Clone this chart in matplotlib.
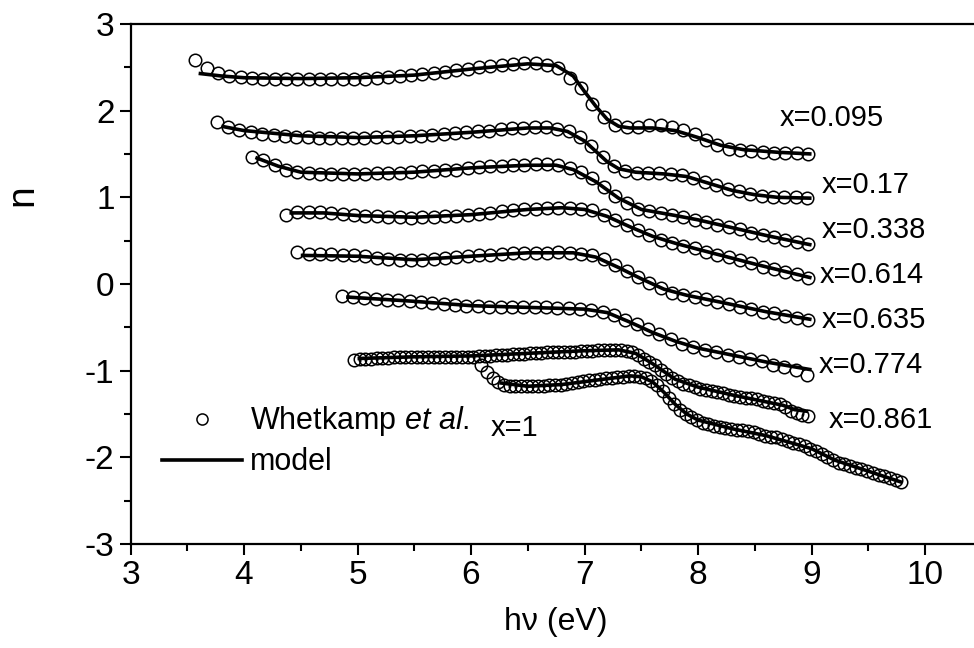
import numpy as np
import matplotlib
matplotlib.use('Agg')
import matplotlib.pyplot as plt
from matplotlib.lines import Line2D

plt.rcParams['font.family'] = ['Liberation Sans', 'DejaVu Sans']
plt.rcParams['mathtext.fontset'] = 'custom'
plt.rcParams['mathtext.rm'] = 'Liberation Sans'
plt.rcParams['mathtext.it'] = 'Liberation Sans:italic'
plt.rcParams['axes.unicode_minus'] = False

# datos medidos (circulos) y modelo (linea) para cada composicion x
e_0095 = [3.57, 3.67, 3.77, 3.87, 3.97, 4.07, 4.17, 4.27, 4.37, 4.47, 4.57, 4.67, 4.77, 4.87,
          4.97, 5.07, 5.17, 5.27, 5.37, 5.47, 5.57, 5.67, 5.77, 5.87, 5.97, 6.07, 6.17, 6.27,
          6.37, 6.47, 6.57, 6.67, 6.77, 6.87, 6.97, 7.07, 7.17, 7.27, 7.37, 7.47, 7.57, 7.67,
          7.77, 7.87, 7.97, 8.07, 8.17, 8.27, 8.37, 8.47, 8.57, 8.67, 8.77, 8.87, 8.97]
n_0095 = [2.58, 2.49, 2.43, 2.40, 2.39, 2.38, 2.37, 2.37, 2.36, 2.36, 2.36, 2.36, 2.36, 2.37,
          2.37, 2.37, 2.38, 2.39, 2.40, 2.41, 2.42, 2.44, 2.45, 2.47, 2.48, 2.50, 2.51, 2.53,
          2.54, 2.55, 2.55, 2.53, 2.49, 2.38, 2.26, 2.08, 1.93, 1.83, 1.81, 1.81, 1.83, 1.83,
          1.81, 1.78, 1.73, 1.66, 1.60, 1.56, 1.55, 1.53, 1.52, 1.51, 1.51, 1.51, 1.50]
em_0095 = [3.6, 3.8, 4.0, 4.5, 5.0, 5.5, 6.0, 6.5, 6.75, 6.9, 7.0, 7.1, 7.2, 7.3, 7.4, 7.6,
           7.8, 8.0, 8.2, 8.4, 8.7, 9.0]
nm_0095 = [2.43, 2.40, 2.38, 2.37, 2.38, 2.41, 2.48, 2.54, 2.52, 2.40, 2.22, 2.05, 1.90, 1.82,
           1.80, 1.80, 1.77, 1.69, 1.60, 1.55, 1.52, 1.50]

e_017 = [3.76, 3.86, 3.96, 4.06, 4.16, 4.26, 4.36, 4.46, 4.56, 4.66, 4.76, 4.86, 4.96, 5.06,
         5.16, 5.26, 5.36, 5.46, 5.56, 5.66, 5.76, 5.86, 5.96, 6.06, 6.16, 6.26, 6.36, 6.46,
         6.56, 6.66, 6.76, 6.86, 6.96, 7.06, 7.16, 7.26, 7.36, 7.46, 7.56, 7.66, 7.76, 7.86,
         7.96, 8.06, 8.16, 8.26, 8.36, 8.46, 8.56, 8.66, 8.76, 8.86, 8.96]
n_017 = [1.87, 1.81, 1.78, 1.75, 1.73, 1.72, 1.71, 1.70, 1.70, 1.69, 1.69, 1.69, 1.69, 1.69,
         1.70, 1.70, 1.70, 1.71, 1.71, 1.72, 1.73, 1.74, 1.75, 1.76, 1.77, 1.79, 1.80, 1.80,
         1.81, 1.81, 1.79, 1.77, 1.70, 1.59, 1.47, 1.36, 1.30, 1.28, 1.28, 1.28, 1.27, 1.26,
         1.22, 1.18, 1.14, 1.10, 1.07, 1.04, 1.02, 1.00, 1.00, 1.00, 0.99]
em_017 = [3.8, 4.0, 4.5, 5.0, 5.5, 6.0, 6.5, 6.7, 6.85, 7.0, 7.1, 7.2, 7.3, 7.45, 7.7, 7.9,
          8.1, 8.3, 8.5, 8.7, 9.0]
nm_017 = [1.82, 1.77, 1.71, 1.69, 1.71, 1.75, 1.80, 1.80, 1.76, 1.65, 1.53, 1.41, 1.33, 1.29,
          1.27, 1.24, 1.16, 1.08, 1.03, 1.00, 0.99]

e_0338 = [4.07, 4.17, 4.27, 4.37, 4.47, 4.57, 4.67, 4.77, 4.87, 4.97, 5.07, 5.17, 5.27, 5.37,
          5.47, 5.57, 5.67, 5.77, 5.87, 5.97, 6.07, 6.17, 6.27, 6.37, 6.47, 6.57, 6.67, 6.77,
          6.87, 6.97, 7.07, 7.17, 7.27, 7.37, 7.47, 7.57, 7.67, 7.77, 7.87, 7.97, 8.07, 8.17,
          8.27, 8.37, 8.47, 8.57, 8.67, 8.77, 8.87, 8.97]
n_0338 = [1.47, 1.43, 1.37, 1.32, 1.29, 1.28, 1.27, 1.27, 1.27, 1.27, 1.27, 1.28, 1.28, 1.28,
          1.29, 1.30, 1.30, 1.31, 1.32, 1.34, 1.35, 1.36, 1.36, 1.37, 1.37, 1.38, 1.38, 1.37,
          1.34, 1.29, 1.22, 1.12, 1.02, 0.93, 0.87, 0.84, 0.82, 0.80, 0.77, 0.74, 0.72, 0.68,
          0.66, 0.63, 0.59, 0.57, 0.54, 0.51, 0.49, 0.46]
em_0338 = [4.1, 4.3, 4.5, 5.0, 5.5, 6.0, 6.5, 6.75, 6.9, 7.1, 7.3, 7.5, 7.8, 8.0, 8.3, 8.6, 9.0]
nm_0338 = [1.46, 1.36, 1.29, 1.27, 1.29, 1.34, 1.37, 1.37, 1.32, 1.18, 0.99, 0.86, 0.79, 0.74,
           0.65, 0.56, 0.45]

e_0614 = [4.37, 4.47, 4.57, 4.67, 4.77, 4.87, 4.97, 5.07, 5.17, 5.27, 5.37, 5.47, 5.57, 5.67,
          5.77, 5.87, 5.97, 6.07, 6.17, 6.27, 6.37, 6.47, 6.57, 6.67, 6.77, 6.87, 6.97, 7.07,
          7.17, 7.27, 7.37, 7.47, 7.57, 7.67, 7.77, 7.87, 7.97, 8.07, 8.17, 8.27, 8.37, 8.47,
          8.57, 8.67, 8.77, 8.87, 8.97]
n_0614 = [0.80, 0.83, 0.83, 0.83, 0.82, 0.81, 0.80, 0.79, 0.78, 0.77, 0.77, 0.76, 0.77, 0.77,
          0.78, 0.79, 0.80, 0.81, 0.82, 0.84, 0.85, 0.86, 0.87, 0.88, 0.88, 0.88, 0.87, 0.85,
          0.80, 0.74, 0.68, 0.62, 0.57, 0.51, 0.47, 0.44, 0.41, 0.37, 0.34, 0.31, 0.28, 0.24,
          0.20, 0.17, 0.14, 0.11, 0.07]
em_0614 = [4.4, 4.7, 5.0, 5.5, 6.0, 6.5, 6.8, 7.0, 7.2, 7.4, 7.6, 7.8, 8.0, 8.5, 9.0]
nm_0614 = [0.82, 0.82, 0.79, 0.77, 0.80, 0.86, 0.88, 0.86, 0.78, 0.66, 0.55, 0.47, 0.40, 0.23,
           0.07]

e_0635 = [4.47, 4.57, 4.67, 4.77, 4.87, 4.97, 5.07, 5.17, 5.27, 5.37, 5.47, 5.57, 5.67, 5.77,
          5.87, 5.97, 6.07, 6.17, 6.27, 6.37, 6.47, 6.57, 6.67, 6.77, 6.87, 6.97, 7.07, 7.17,
          7.27, 7.37, 7.47, 7.57, 7.67, 7.77, 7.87, 7.97, 8.07, 8.17, 8.27, 8.37, 8.47, 8.57,
          8.67, 8.77, 8.87, 8.97]
n_0635 = [0.37, 0.35, 0.35, 0.35, 0.34, 0.33, 0.32, 0.30, 0.29, 0.28, 0.28, 0.28, 0.29, 0.30,
          0.31, 0.32, 0.33, 0.34, 0.35, 0.355, 0.36, 0.36, 0.36, 0.37, 0.36, 0.35, 0.33, 0.29,
          0.22, 0.15, 0.08, 0.01, -0.05, -0.10, -0.13, -0.15, -0.17, -0.21, -0.23, -0.26, -0.29,
          -0.32, -0.34, -0.37, -0.39, -0.42]
em_0635 = [4.5, 5.0, 5.5, 6.0, 6.5, 6.9, 7.1, 7.3, 7.5, 7.7, 7.9, 8.2, 8.6, 9.0]
nm_0635 = [0.33, 0.32, 0.28, 0.32, 0.36, 0.36, 0.31, 0.19, 0.06, -0.06, -0.13, -0.21, -0.32,
           -0.41]

e_0774 = [4.86, 4.96, 5.06, 5.16, 5.26, 5.36, 5.46, 5.56, 5.66, 5.76, 5.86, 5.96, 6.06, 6.16,
          6.26, 6.36, 6.46, 6.56, 6.66, 6.76, 6.86, 6.96, 7.06, 7.16, 7.26, 7.36, 7.46, 7.56,
          7.66, 7.76, 7.86, 7.96, 8.06, 8.16, 8.26, 8.36, 8.46, 8.56, 8.66, 8.76, 8.86, 8.96]
n_0774 = [-0.14, -0.15, -0.16, -0.17, -0.18, -0.19, -0.20, -0.21, -0.22, -0.23, -0.24, -0.25,
          -0.25, -0.26, -0.26, -0.27, -0.27, -0.27, -0.27, -0.28, -0.28, -0.29, -0.30, -0.32,
          -0.36, -0.41, -0.46, -0.52, -0.58, -0.64, -0.69, -0.73, -0.76, -0.79, -0.82, -0.84,
          -0.86, -0.89, -0.93, -0.96, -0.99, -1.05]
em_0774 = [4.9, 5.5, 6.0, 6.5, 7.0, 7.2, 7.4, 7.6, 7.8, 8.0, 8.3, 8.6, 9.0]
nm_0774 = [-0.15, -0.20, -0.25, -0.27, -0.29, -0.33, -0.44, -0.56, -0.66, -0.74, -0.82, -0.90,
           -0.99]

e_0861 = [4.97, 5.02, 5.07, 5.12, 5.17, 5.22, 5.27, 5.32, 5.37, 5.42, 5.47, 5.52, 5.57, 5.62,
          5.67, 5.72, 5.77, 5.82, 5.87, 5.92, 5.97, 6.02, 6.07, 6.12, 6.17, 6.22, 6.27, 6.32,
          6.37, 6.42, 6.47, 6.52, 6.57, 6.62, 6.67, 6.72, 6.77, 6.82, 6.87, 6.92, 6.97, 7.02,
          7.07, 7.12, 7.17, 7.22, 7.27, 7.32, 7.37, 7.42, 7.47, 7.52, 7.57, 7.62, 7.67, 7.72,
          7.77, 7.82, 7.87, 7.92, 7.97, 8.02, 8.07, 8.12, 8.17, 8.22, 8.27, 8.32, 8.37, 8.42,
          8.47, 8.52, 8.57, 8.62, 8.67, 8.72, 8.77, 8.82, 8.87, 8.92, 8.97]
n_0861 = [-0.88, -0.87, -0.86, -0.86, -0.85, -0.85, -0.85, -0.84, -0.84, -0.84, -0.84, -0.84,
          -0.84, -0.84, -0.84, -0.84, -0.84, -0.84, -0.84, -0.84, -0.84, -0.84, -0.83, -0.83,
          -0.83, -0.82, -0.82, -0.82, -0.81, -0.81, -0.81, -0.80, -0.80, -0.80, -0.79, -0.79,
          -0.79, -0.78, -0.78, -0.78, -0.77, -0.77, -0.77, -0.76, -0.76, -0.76, -0.76, -0.76,
          -0.77, -0.79, -0.82, -0.86, -0.90, -0.94, -0.99, -1.04, -1.08, -1.12, -1.15, -1.17,
          -1.19, -1.21, -1.22, -1.24, -1.25, -1.26, -1.28, -1.29, -1.30, -1.31, -1.32, -1.33,
          -1.35, -1.36, -1.37, -1.39, -1.42, -1.46, -1.49, -1.51, -1.52]
em_0861 = [5.0, 5.5, 6.0, 6.5, 7.0, 7.3, 7.45, 7.6, 7.8, 8.0, 8.3, 8.6, 8.75, 8.85, 8.97]
nm_0861 = [-0.86, -0.84, -0.83, -0.80, -0.77, -0.76, -0.80, -0.92, -1.10, -1.19, -1.28, -1.36,
           -1.40, -1.45, -1.47]

e_1 = [6.09, 6.14, 6.19, 6.24, 6.29, 6.34, 6.39, 6.44, 6.49, 6.54, 6.59, 6.64, 6.69, 6.74,
       6.79, 6.84, 6.89, 6.94, 6.99, 7.04, 7.09, 7.14, 7.19, 7.24, 7.29, 7.34, 7.39, 7.44,
       7.49, 7.54, 7.59, 7.64, 7.69, 7.74, 7.79, 7.84, 7.89, 7.94, 7.99, 8.04, 8.09, 8.14,
       8.19, 8.24, 8.29, 8.34, 8.39, 8.44, 8.49, 8.54, 8.59, 8.64, 8.69, 8.74, 8.79, 8.84,
       8.89, 8.94, 8.99, 9.04, 9.09, 9.14, 9.19, 9.24, 9.29, 9.34, 9.39, 9.44, 9.49, 9.54,
       9.59, 9.64, 9.69, 9.74, 9.79]
n_1 = [-0.93, -1.01, -1.08, -1.13, -1.16, -1.18, -1.18, -1.18, -1.18, -1.18, -1.18, -1.18,
       -1.17, -1.17, -1.16, -1.15, -1.14, -1.13, -1.12, -1.11, -1.11, -1.10, -1.09, -1.08,
       -1.07, -1.07, -1.06, -1.06, -1.07, -1.09, -1.12, -1.17, -1.24, -1.31, -1.38, -1.45,
       -1.50, -1.54, -1.57, -1.60, -1.62, -1.64, -1.65, -1.66, -1.67, -1.68, -1.69, -1.70,
       -1.71, -1.73, -1.75, -1.76, -1.77, -1.79, -1.81, -1.83, -1.85, -1.87, -1.90, -1.93,
       -1.96, -2.00, -2.03, -2.06, -2.08, -2.10, -2.12, -2.14, -2.16, -2.18, -2.20, -2.22,
       -2.24, -2.26, -2.29]
em_1 = [6.25, 6.5, 6.8, 7.1, 7.4, 7.5, 7.6, 7.7, 7.8, 7.9, 8.0, 8.3, 8.6, 9.0, 9.2, 9.5, 9.8]
nm_1 = [-1.14, -1.18, -1.16, -1.11, -1.06, -1.07, -1.13, -1.25, -1.39, -1.50, -1.57, -1.67,
        -1.75, -1.90, -2.03, -2.16, -2.29]

medidos = [(e_0095, n_0095), (e_017, n_017), (e_0338, n_0338), (e_0614, n_0614),
           (e_0635, n_0635), (e_0774, n_0774), (e_0861, n_0861), (e_1, n_1)]
modelos = [(em_0095, nm_0095), (em_017, nm_017), (em_0338, nm_0338), (em_0614, nm_0614),
           (em_0635, nm_0635), (em_0774, nm_0774), (em_0861, nm_0861), (em_1, nm_1)]

etiquetas = ['x=0.095', 'x=0.17', 'x=0.338', 'x=0.614', 'x=0.635', 'x=0.774', 'x=0.861', 'x=1']
etiq_x = [8.72, 9.09, 9.09, 9.07, 9.09, 9.06, 9.15, 6.17]
etiq_y = [1.92, 1.14, 0.62, 0.10, -0.41, -0.93, -1.57, -1.66]

fig = plt.figure(figsize=(9.74, 6.48), dpi=100)
ax = fig.add_axes([0.134, 0.1605, 0.874, 0.8025])

for (e, n), (em, nm) in zip(medidos, modelos):
    ax.plot(em, nm, color='black', lw=2.6, solid_capstyle='butt', zorder=2)
    ax.plot(e, n, 'o', ms=9, mfc='none', mec='black', mew=1.1, zorder=3)

for t, tx, ty in zip(etiquetas, etiq_x, etiq_y):
    ax.text(tx, ty, t, fontsize=21, va='center', ha='left')

ax.set_xlim(3, 10.5)
ax.set_ylim(-3, 3)
ax.set_xticks([3, 4, 5, 6, 7, 8, 9, 10])
ax.set_yticks([-3, -2, -1, 0, 1, 2, 3])
ax.set_xticks(np.arange(3.5, 10.5, 1.0), minor=True)
ax.set_yticks(np.arange(-2.5, 3.0, 1.0), minor=True)
ax.tick_params(which='major', direction='out', length=8, width=1.5, labelsize=24,
               top=False, right=False)
ax.tick_params(which='minor', direction='out', length=5, width=1.5, top=False, right=False)
for s in ['left', 'bottom', 'top']:
    ax.spines[s].set_linewidth(1.6)
ax.spines['right'].set_visible(False)

ax.set_xlabel('h\u03bd (eV)', fontsize=23)
ax.set_ylabel('n', fontsize=28)
ax.xaxis.set_label_coords(0.499, -0.122)
ax.yaxis.set_label_coords(-0.106, 0.67)

# leyenda
h1 = Line2D([], [], ls='none', marker='o', ms=8, mfc='none', mec='black', mew=1.1)
h2 = Line2D([], [], color='black', lw=2.6)
ax.legend([h1, h2], ['Whetkamp $\\mathit{et\\ al.}$', 'model'], loc='lower left',
          bbox_to_anchor=(0.037, 0.128), frameon=False, fontsize=22, handlelength=2.62,
          handletextpad=0.27, labelspacing=0.3, borderpad=0, borderaxespad=0)

plt.savefig('out.png', dpi=100)
